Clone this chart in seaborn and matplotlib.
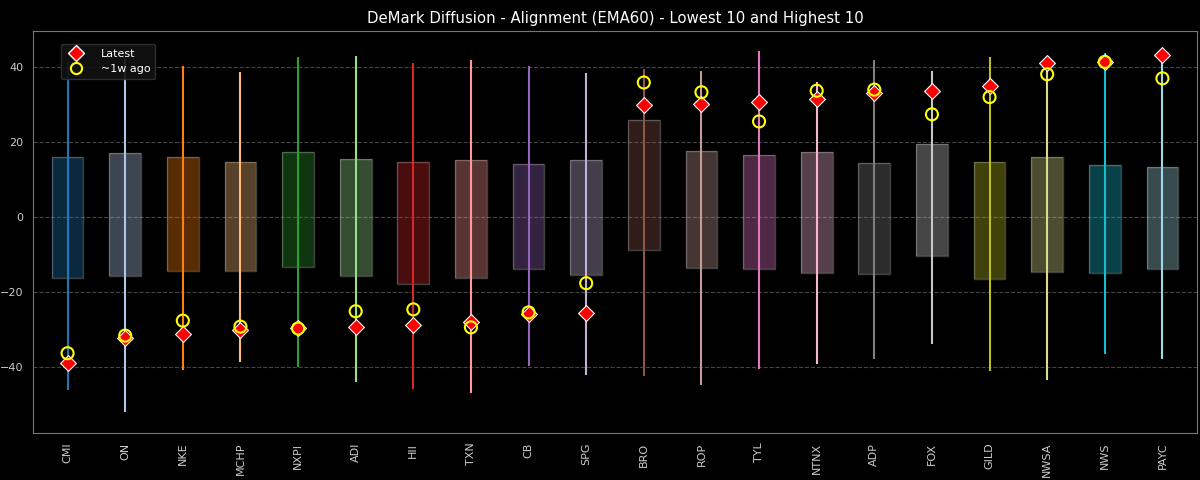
import matplotlib
matplotlib.use("Agg")
import matplotlib.pyplot as plt
from matplotlib.lines import Line2D
import numpy as np
import pandas as pd
import seaborn as sns

tickers = ["CMI", "ON", "NKE", "MCHP", "NXPI", "ADI", "HII", "TXN", "CB", "SPG",
           "BRO", "ROP", "TYL", "NTNX", "ADP", "FOX", "GILD", "NWSA", "NWS", "PAYC"]
# range of the series (min / max) and box (lower / upper)
low = [-46.3, -52.2, -41.0, -38.8, -40.1, -44.1, -45.9, -46.9, -39.7, -42.3,
       -42.5, -44.8, -40.7, -39.3, -38.0, -34.0, -41.2, -43.5, -36.7, -37.9]
high = [41.6, 42.1, 40.3, 38.7, 42.6, 43.0, 41.2, 42.0, 40.4, 38.4,
        39.6, 38.9, 44.4, 36.0, 42.0, 39.0, 42.6, 41.5, 43.8, 43.0]
box_lo = [-16.2, -15.7, -14.4, -14.4, -13.5, -15.9, -17.8, -16.4, -13.8, -15.5,
          -8.9, -13.6, -13.8, -15.0, -15.3, -10.4, -16.5, -14.7, -14.9, -13.8]
box_hi = [15.9, 17.0, 16.1, 14.8, 17.4, 15.6, 14.7, 15.3, 14.1, 15.1,
          26.0, 17.6, 16.5, 17.3, 14.3, 19.5, 14.7, 16.0, 13.8, 13.2]
latest = [-39.0, -32.4, -31.3, -30.2, -29.8, -29.5, -28.9, -28.0, -25.9, -25.7,
          29.8, 30.1, 30.6, 31.5, 33.2, 33.6, 35.0, 41.2, 41.4, 43.2]
week_ago = [-36.4, -31.7, -27.7, -29.3, -29.8, -25.2, -24.7, -29.5, -25.5, -17.7,
            35.9, 33.3, 25.5, 33.7, 34.0, 27.4, 32.0, 38.1, 41.4, 37.0]

plt.style.use("dark_background")
sns.set_style("dark", {"axes.facecolor": "black", "figure.facecolor": "black",
                       "axes.edgecolor": "#888888", "text.color": "white",
                       "xtick.color": "#cccccc", "ytick.color": "#cccccc",
                       "axes.labelcolor": "white"})
plt.rcParams['font.family'] = ['DejaVu Sans']

colors = sns.color_palette("tab20", len(tickers))
pos = np.arange(len(tickers))

df = pd.DataFrame({"pos": pos, "ticker": tickers, "latest": latest, "week_ago": week_ago})

fig, ax = plt.subplots(figsize=(12, 4.8), dpi=100)

for i in pos:
    ax.bar(i, box_hi[i] - box_lo[i], bottom=box_lo[i], width=0.55,
           color=colors[i], alpha=0.35, linewidth=0, zorder=2)
    ax.bar(i, box_hi[i] - box_lo[i], bottom=box_lo[i], width=0.55,
           facecolor="none", edgecolor=(1, 1, 1, 0.25), linewidth=1, zorder=2)
    ax.vlines(i, low[i], high[i], color=colors[i], linewidth=1.5, zorder=3)

sns.scatterplot(data=df, x="pos", y="latest", marker="D", s=65, color="red",
                edgecolor="white", linewidth=0.8, zorder=5, ax=ax)
sns.scatterplot(data=df, x="pos", y="week_ago", marker="o", s=75, facecolor="none",
                edgecolor="yellow", linewidth=1.5, zorder=6, ax=ax)

ax.set_xticks(pos)
ax.set_xticklabels(tickers, rotation=90)
ax.set_xlim(-0.6, len(tickers) - 0.4)
ax.set_ylim(-57.7, 49.6)
ax.set_yticks([-40, -20, 0, 20, 40])
ax.set_xlabel("")
ax.set_ylabel("")
ax.grid(axis="y", linestyle="--", color="#444444", linewidth=0.8)
ax.grid(axis="x", visible=False)
ax.set_axisbelow(True)
for s in ax.spines.values():
    s.set_color("#777777")
ax.tick_params(axis="both", colors="#cccccc", labelsize=8, length=3.5)

handles = [
    Line2D([], [], marker="D", linestyle="none", markerfacecolor="red",
           markeredgecolor="white", markersize=8, label="Latest"),
    Line2D([], [], marker="o", linestyle="none", markerfacecolor="none",
           markeredgecolor="yellow", markeredgewidth=1.5, markersize=8, label="~1w ago"),
]
leg = ax.legend(handles=handles, loc="upper left", bbox_to_anchor=(0.024, 0.968),
                borderaxespad=0, facecolor="#111111", edgecolor="#333333",
                framealpha=0.9, fontsize=8, handletextpad=1.2)
for t in leg.get_texts():
    t.set_color("white")

ax.set_title("DeMark Diffusion - Alignment (EMA60) - Lowest 10 and Highest 10",
             color="white", fontsize=10.75)

fig.subplots_adjust(left=0.0275, right=0.9975, top=0.935, bottom=0.098)
fig.savefig("out.png", dpi=100, facecolor="black")
